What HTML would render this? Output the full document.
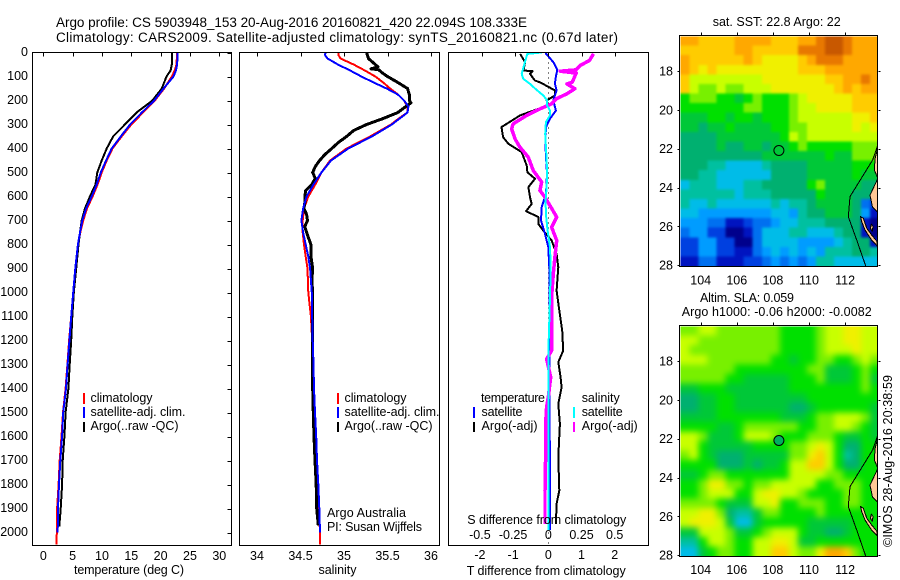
<!DOCTYPE html>
<html lang="en">
<head>
<meta charset="utf-8">
<title>Argo profile 5903948_153</title>
<style>
html,body{margin:0;padding:0;background:#fff;}
#figure{display:block;width:900px;height:580px;}
text{font-family:"Liberation Sans",sans-serif;font-size:12.5px;fill:#000;}
.crisp{shape-rendering:crispEdges;}
.title{font-size:13.5px;}
</style>
</head>
<body>
<svg id="figure" xmlns="http://www.w3.org/2000/svg" width="900" height="580" viewBox="0 0 900 580">
  <defs>
    <clipPath id="clip-temp"><rect x="32" y="52" width="200" height="494"/></clipPath>
    <clipPath id="clip-sal"><rect x="239" y="52" width="201" height="494"/></clipPath>
    <clipPath id="clip-diff"><rect x="448" y="52" width="201" height="494"/></clipPath>
    <clipPath id="clip-sst"><rect x="680.5" y="36.5" width="197" height="230"/></clipPath>
    <clipPath id="clip-sla"><rect x="680.5" y="326.5" width="197" height="230"/></clipPath>
    <filter id="soft-sst" filterUnits="userSpaceOnUse" x="640" y="0" width="260" height="300" color-interpolation-filters="sRGB"><feGaussianBlur stdDeviation="1.3"/></filter>
    <filter id="soft-sla" filterUnits="userSpaceOnUse" x="640" y="290" width="260" height="290" color-interpolation-filters="sRGB"><feGaussianBlur stdDeviation="3.2"/></filter>
  </defs>

  <text class="title" x="56" y="27" textLength="471">Argo profile: CS 5903948_153 20-Aug-2016 20160821_420 22.094S 108.333E</text>
  <text class="title" x="56" y="42" textLength="562">Climatology: CARS2009. Satellite-adjusted climatology: synTS_20160821.nc (0.67d later)</text>

  <g clip-path="url(#clip-sst)"><g id="heat-sst" filter="url(#soft-sst)" class="crisp"></g></g>
  <g clip-path="url(#clip-sla)"><g id="heat-sla" filter="url(#soft-sla)" class="crisp"></g></g>
  <g id="geo-sst" clip-path="url(#clip-sst)"></g>
  <g id="geo-sla" clip-path="url(#clip-sla)"></g>

  <g id="series-temp" clip-path="url(#clip-temp)" class="crisp"></g>
  <g id="series-sal" clip-path="url(#clip-sal)" class="crisp"></g>
  <g id="series-diff" clip-path="url(#clip-diff)" class="crisp"></g>

  <g id="ticks" class="crisp"></g>
  <g id="tick-labels"></g>

  <g class="crisp" fill="none" stroke="#000" stroke-width="1">
    <rect x="32.5" y="52.5" width="199" height="493"/>
    <rect x="239.5" y="52.5" width="200" height="493"/>
    <rect x="448.5" y="52.5" width="200" height="493"/>
    <rect x="679.5" y="35.5" width="198" height="231"/>
    <rect x="679.5" y="325.5" width="198" height="231"/>
  </g>

  <text x="74" y="574" textLength="110">temperature (deg C)</text>
  <text x="318.5" y="574" textLength="38">salinity</text>
  <text x="466.7" y="575" textLength="159">T difference from climatology</text>
  <text x="467.3" y="524" textLength="159">S difference from climatology</text>

  <g class="crisp">
    <rect x="83" y="393" width="2" height="11" fill="#f00"/>
    <rect x="83" y="407" width="2" height="11" fill="#00f"/>
    <rect x="83" y="422" width="2" height="10" fill="#000"/>
  </g>
  <text x="90.5" y="402" textLength="62">climatology</text>
  <text x="90.5" y="416" textLength="95">satellite-adj. clim.</text>
  <text x="90.5" y="430" textLength="88">Argo(..raw -QC)</text>

  <g class="crisp">
    <rect x="337" y="393" width="2" height="11" fill="#f00"/>
    <rect x="337" y="407" width="2" height="11" fill="#00f"/>
    <rect x="337" y="422" width="2" height="10" fill="#000"/>
  </g>
  <text x="344.5" y="402" textLength="62">climatology</text>
  <text x="344.5" y="416" textLength="95">satellite-adj. clim.</text>
  <text x="344.5" y="430" textLength="88">Argo(..raw -QC)</text>

  <text x="327" y="517" textLength="79">Argo Australia</text>
  <text x="327" y="531" textLength="95">PI: Susan Wijffels</text>

  <text x="481" y="402" textLength="64">temperature</text>
  <text x="481.5" y="416" textLength="41">satellite</text>
  <text x="481.5" y="430" textLength="56">Argo(-adj)</text>
  <text x="581.7" y="402" textLength="38">salinity</text>
  <text x="581.7" y="416" textLength="41">satellite</text>
  <text x="581.7" y="430" textLength="56">Argo(-adj)</text>
  <g class="crisp">
    <rect x="473" y="407" width="2" height="11" fill="#00f"/>
    <rect x="473" y="422" width="2" height="10" fill="#000"/>
    <rect x="573" y="407" width="2" height="11" fill="#0ff"/>
    <rect x="573" y="422" width="2" height="10" fill="#f0f"/>
  </g>

  <text x="712.7" y="26" textLength="128">sat. SST: 22.8 Argo: 22</text>
  <text x="700" y="302" textLength="94">Altim. SLA: 0.059</text>
  <text x="681.7" y="316" textLength="190">Argo h1000: -0.06 h2000: -0.0082</text>
  <text transform="translate(892,547) rotate(-90)" x="0" y="0" textLength="172">©IMOS 28-Aug-2016 20:38:59</text>
</svg>

<script>
// ---------- temperature panel data ----------
const tempDepth = [0,50,75,100,150,200,250,300,350,400,450,500,550,600,650,700,750,800,900,1000,1100,1200,1300,1400,1500,1600,1700,1800,1900,2000,2050];
const tempClim = [22.8,22.7,22.4,21.9,20.6,19.0,17.0,15.0,13.35,11.8,10.8,9.95,9.25,8.4,7.45,6.8,6.3,5.95,5.5,5.1,4.75,4.4,4.1,3.8,3.35,3.1,2.8,2.6,2.35,2.3,2.25];
const tempSat = [22.9,22.8,22.6,22.2,20.5,18.9,16.8,14.8,13.2,11.65,10.7,9.8,9.1,8.25,7.3,6.65,6.25,5.9,5.45,5.1,4.75,4.45,4.15,3.87,3.4,3.2,2.9,2.68,2.5,2.45];
const tempArgoDepth = [0,50,75,100,150,200,250,300,350,400,450,500,550,600,650,700,750,800,900,1000,1100,1200,1300,1400,1500,1600,1700,1800,1900,1975];
const tempArgo = [21.9,21.9,21.7,21.0,20.2,18.6,15.9,13.9,11.9,10.8,9.95,9.2,8.9,7.95,7.1,6.55,6.25,6.0,5.6,5.2,4.95,4.75,4.5,4.27,3.8,3.6,3.3,3.2,2.97,2.73];

// ---------- salinity panel data ----------
const salDepth = [0,10,25,50,75,100,125,150,175,200,225,250,275,300,350,400,450,500,550,600,650,700,750,800,850,900,1000,1100,1200,1300,1400,1500,1600,1700,1800,1900,2000,2050];
const salClim = [34.935,34.935,34.96,35.11,35.24,35.36,35.45,35.53,35.62,35.69,35.73,35.73,35.63,35.54,35.30,35.03,34.84,34.74,34.67,34.59,34.54,34.525,34.525,34.54,34.56,34.58,34.59,34.62,34.635,34.645,34.65,34.66,34.675,34.69,34.70,34.712,34.724,34.724];
const salSat = [34.79,34.78,34.81,34.93,35.07,35.2,35.34,35.49,35.62,35.69,35.74,35.73,35.64,35.55,35.32,35.05,34.85,34.74,34.65,34.57,34.53,34.51,34.53,34.56,34.59,34.61,34.63,34.635,34.64,34.65,34.655,34.667,34.68,34.69,34.705,34.716,34.724];
const salArgoDepth = [0,25,50,60,68,72,85,100,125,150,175,200,210,225,250,275,300,325,350,375,400,425,450,475,500,525,550,575,600,625,650,675,700,725,750,800,850,900,950,1000,1100,1200,1300,1400,1500,1600,1700,1800,1900,1970];
const salArgo = [35.26,35.28,35.36,35.39,35.31,35.40,35.44,35.5,35.62,35.73,35.75,35.75,35.77,35.71,35.62,35.45,35.26,35.11,35.03,34.935,34.86,34.78,34.72,34.67,34.64,34.67,34.63,34.56,34.55,34.55,34.54,34.57,34.58,34.55,34.57,34.62,34.62,34.64,34.63,34.64,34.64,34.64,34.64,34.64,34.647,34.655,34.667,34.68,34.686,34.705];

// ---------- difference panel data ----------
const tDiffSatDepth = [0,5,40,72,100,130,158,200,242,276,311,367,436,505,589,644,700,756,811,894,1019,1200,1500,1800,1990];
const tDiffSat = [-0.07,-0.07,0.15,0.27,0.23,0.2,0.25,0.15,0.23,0.05,-0.07,-0.09,-0.07,-0.04,-0.07,-0.2,-0.22,-0.1,0,0.03,0.03,0.03,0.04,0.05,0.05];
const sDiffSatDepth = [0,6,40,89,110,131,156,179,200,221,242,262,290,339,422,506,561,617,672,742,811,894,1019,1200,1500,1800,1990];
const sDiffSat = [-0.05,-0.158,-0.176,-0.2,-0.188,-0.138,-0.088,-0.038,-0.008,-0.008,0.013,0.013,-0.018,-0.023,-0.015,-0.008,-0.013,-0.02,-0.018,-0.005,0.013,0.018,0.013,0.003,0.003,0.003,0];
const tDiffArgoDepth = [6,40,75,78,89,117,124,158,179,200,221,242,262,311,353,381,415,471,499,526,561,603,631,661,686,714,742,783,839,894,992,1075,1158,1242,1290,1353,1395,1464,1547,1686,1825,1881,1964];
const tDiffArgo = [-0.85,-0.70,-0.75,-0.47,-0.55,-0.40,-0.25,0.20,0.20,-0.05,0,-0.45,-0.85,-1.41,-1.36,-1.20,-0.80,-0.65,-0.63,-0.40,-0.60,-0.55,-0.50,-0.67,-0.30,-0.30,-0.15,0.10,0.25,0.30,0.25,0.33,0.42,0.45,0.30,0.37,0.40,0.30,0.35,0.30,0.33,0.25,0.23];
const sDiffArgoDepth = [6,33,54,72,78,86,124,131,151,172,193,214,235,262,297,318,360,394,436,492,540,575,603,638,686,728,783,853,922,1019,1061,1242,1277,1353,1436,1478,1547,1686,1825,1964];
const sDiffArgo = [0.34,0.31,0.24,0.21,0.09,0.21,0.18,0.14,0.20,0.14,0.06,0.025,-0.063,-0.163,-0.264,-0.276,-0.251,-0.214,-0.151,-0.113,-0.05,-0.063,-0.025,0.013,0.063,0.025,0.063,0.05,0.038,0.025,0.025,0.025,-0.013,0.018,0,-0.013,-0.02,-0.02,-0.025,-0.025];

// ---------- tick labels ----------
const depthTicks = [0,100,200,300,400,500,600,700,800,900,1000,1100,1200,1300,1400,1500,1600,1700,1800,1900,2000];
const tempTicks = [0,5,10,15,20,25,30];
const salTicks = [34,34.5,35,35.5,36];
const tDiffTicks = [-2,-1,0,1,2];
const sDiffTicks = [-0.5,-0.25,0,0.25,0.5];
const lonTicks = [104,106,108,110,112];
const latTicks = [18,20,22,24,26,28];

// ---------- profile position ----------
const profileLon = [108.333];
const profileLat = [22.094];

// ---------- map data: colour levels, one row per 0.5 degree of latitude ----------
const sstLevels = [
[14,14,13,13,13,13,14,14,14,14,13,13,13,14,14,15,16,16,15,14,14,14],
[13,13,13,13,13,13,14,14,13,13,13,13,13,15,15,15,16,16,15,14,14,14],
[14,13,13,13,13,13,13,14,13,12,12,12,12,13,14,15,15,15,14,14,14,14],
[14,13,12,13,12,12,12,12,12,12,12,12,12,13,13,13,14,14,14,14,14,14],
[13,11,11,11,11,11,11,11,11,12,12,12,12,12,12,12,13,13,14,14,15,14],
[13,11,10,10,11,10,10,11,11,11,12,12,12,12,12,12,12,13,14,13,14,14],
[9,10,10,10,9,9,8,9,10,9,9,9,10,11,12,12,12,12,12,13,13,13],
[9,9,9,9,9,9,9,10,10,9,9,9,10,11,11,12,12,12,12,13,13,13],
[8,8,8,9,9,8,9,9,8,9,9,9,10,11,11,11,11,11,11,12,12,13],
[8,8,7,8,8,9,8,8,8,8,9,9,10,10,11,11,11,11,11,12,11,12],
[7,7,7,7,8,8,8,8,8,8,8,9,11,10,11,11,11,11,11,11,11,11],
[7,7,7,7,8,7,7,8,8,7,8,8,9,10,9,9,9,9,9,10,10,10],
[7,7,7,7,7,7,7,7,7,8,8,8,8,8,8,8,9,8,8,10,10,10],
[7,7,7,6,6,5,5,5,5,6,7,7,7,7,8,8,8,8,8,9,9,9],
[7,7,6,6,5,5,5,5,5,5,7,7,7,7,8,8,8,8,8,9,8,8],
[5,6,6,6,5,5,5,6,6,7,7,7,7,7,9,10,8,8,8,8,7,7],
[6,6,6,6,6,6,5,6,6,6,7,7,7,7,7,9,8,8,8,7,7,7],
[6,5,5,6,5,5,5,5,5,5,6,5,6,6,7,8,8,8,8,7,3,2],
[5,5,4,4,4,4,4,4,4,4,5,5,4,6,7,7,8,8,8,7,4,1],
[4,4,4,3,3,1,1,2,3,3,4,5,5,6,6,6,7,7,7,7,1,0],
[3,4,4,2,2,0,0,1,3,5,5,5,6,6,5,5,5,6,7,7,1,0],
[2,2,4,4,2,2,0,0,3,5,5,5,5,4,4,4,4,5,6,7,7,1],
[2,2,4,4,2,2,1,1,3,4,5,4,5,4,5,4,6,6,6,7,7,6],
[1,1,3,3,1,1,1,2,2,3,4,3,4,3,4,6,6,5,5,5,5,5]
];
const slaLevels = [
[10,10,11,11,10,10,10,10,10,10,10,9,9,9,9,10,11,11,12,12,11,11],
[11,11,10,10,10,10,10,10,10,10,10,9,9,9,9,10,11,11,12,12,11,11],
[11,10,10,10,10,10,10,10,10,10,10,9,9,9,9,10,11,11,11,12,11,11],
[11,11,11,10,10,10,10,10,10,10,9,9,8,9,9,10,10,9,9,10,11,10],
[10,10,10,10,10,10,9,9,9,9,9,9,9,9,10,10,8,8,8,9,10,9],
[10,10,10,10,10,9,9,8,8,8,8,8,9,9,9,10,8,8,8,9,10,8],
[8,8,9,9,9,8,8,8,8,8,8,8,9,9,9,9,9,9,9,9,10,9],
[7,7,8,8,9,9,8,8,8,8,8,8,8,8,9,9,9,9,9,9,9,9],
[7,7,8,8,9,9,8,8,8,8,8,8,7,7,8,9,9,9,9,9,9,8],
[8,8,8,8,9,9,9,9,9,9,9,8,8,8,9,10,10,11,11,11,10,8],
[9,9,9,9,8,8,9,10,10,10,10,10,10,9,9,10,10,11,11,10,9,8],
[11,11,10,8,8,8,9,11,11,11,10,9,9,9,10,10,10,9,8,8,9,8],
[11,11,9,8,8,8,8,8,9,9,9,9,10,10,11,12,11,9,7,7,9,9],
[10,11,9,8,7,7,7,8,8,8,8,8,10,10,12,13,11,9,6,7,9,9],
[9,9,9,9,7,7,7,8,7,8,8,9,11,11,13,13,11,9,7,7,9,9],
[8,8,9,10,10,9,9,9,9,9,9,9,11,11,11,11,10,10,9,9,9,9],
[9,9,10,12,12,10,10,9,10,10,11,11,11,11,11,9,9,10,10,10,9,9],
[9,9,10,11,11,11,9,9,11,12,12,11,11,10,9,9,9,9,10,10,9,9],
[10,10,10,10,9,8,8,8,11,11,12,9,9,10,10,10,9,9,10,10,9,9],
[11,11,12,12,10,7,6,6,8,10,10,9,9,9,9,10,9,9,9,9,9,9],
[11,12,12,12,11,8,5,5,8,9,9,9,9,9,8,8,8,8,8,9,9,9],
[8,8,11,11,11,10,8,8,9,10,11,11,11,9,8,8,7,7,8,9,9,9],
[6,6,9,11,11,10,9,9,11,11,12,12,11,8,8,9,9,9,9,9,9,9],
[5,5,8,9,10,10,9,9,11,11,13,13,11,10,10,12,14,14,13,10,9,9]
];

// ---------- geography (longitude E, latitude S) ----------
const coastOuterLon = [113.78,113.53,112.73,112.27,112.18,112.64,113.16];
const coastOuterLat = [21.9,22.58,23.78,24.47,25.5,26.7,28.08];
const landALon = [113.9,113.78,113.66,113.62,113.78,113.9];
const landALat = [22.07,22.07,22.5,23.1,23.44,23.44];
const landBLon = [113.9,113.78,113.38,113.51,113.78,113.9];
const landBLat = [23.61,23.61,24.39,24.99,25.24,25.24];
const landCLon = [112.86,113.01,113.2,113.47,113.78,113.78,113.47,113.1,112.92];
const landCLat = [25.5,25.58,26.1,26.44,26.79,27.01,26.7,26.19,25.76];
const landDLon = [113.45,113.55,113.5,113.4];
const landDLat = [25.9,26.0,26.25,26.1];

// colour ramp used for map levels (dark blue through to dark orange)
const heatPalette = ['#00008c','#0014c0','#0040e0','#0070f0','#009cff','#00bce8','#00c0a0','#00b070','#00c838','#00e000','#78f000','#c8ff00','#f0f000','#ffcc00','#ffa800','#e87800','#c85800'];

// ---------- axis functions ----------
const SVGNS = 'http://www.w3.org/2000/svg';
const yDepth = d => 52.5 + d * 0.24;
const xTemp = v => 43.3 + v * 5.867;
const xSal = v => 257 + (v - 34) * 87;
const xTDiff = v => 548.3 + v * 33.2;
const xSDiff = v => 548.3 + v * 132.8;
const xLon = v => 700.7 + (v - 104) * 18.05;
const ySst = v => 71 + (v - 18) * 19.42;
const ySla = v => ySst(v) + 290;

function mk(tag, parent) {
  const el = document.createElementNS(SVGNS, tag);
  parent.appendChild(el);
  return el;
}

function drawProfile(parent, xFn, depths, values, color, width, name) {
  const el = mk('polyline', parent);
  
  
  const pts = values.map((v, i) => xFn(v).toFixed(1) + ',' + yDepth(depths[i]).toFixed(1));
  el.setAttribute('points', pts.join(' '));
  el.setAttribute('fill', 'none');
  el.setAttribute('stroke', color);
  el.setAttribute('stroke-width', width);
  el.setAttribute('stroke-linejoin', 'round');
}

const gTemp = document.getElementById('series-temp');
drawProfile(gTemp, xTemp, tempDepth, tempClim, '#f00', 2, 'temperature-climatology-line');
drawProfile(gTemp, xTemp, tempArgoDepth, tempArgo, '#000', 2, 'temperature-argo-line');
drawProfile(gTemp, xTemp, tempDepth, tempSat, '#00f', 2, 'temperature-satellite-line');

const gSal = document.getElementById('series-sal');
drawProfile(gSal, xSal, salDepth, salClim, '#f00', 2, 'salinity-climatology-line');
drawProfile(gSal, xSal, salArgoDepth, salArgo, '#000', 3, 'salinity-argo-line');
drawProfile(gSal, xSal, salDepth, salSat, '#00f', 2, 'salinity-satellite-line');

const gDiff = document.getElementById('series-diff');
const zeroLine = mk('line', gDiff);


zeroLine.setAttribute('x1', xTDiff(0));
zeroLine.setAttribute('x2', xTDiff(0));
zeroLine.setAttribute('y1', yDepth(0));
zeroLine.setAttribute('y2', yDepth(2054));
zeroLine.setAttribute('stroke', '#000');
zeroLine.setAttribute('stroke-dasharray', '1 4');
drawProfile(gDiff, xTDiff, tDiffArgoDepth, tDiffArgo, '#000', 2, 't-difference-argo-line');
drawProfile(gDiff, xTDiff, tDiffSatDepth, tDiffSat, '#00f', 2, 't-difference-satellite-line');
drawProfile(gDiff, xSDiff, sDiffArgoDepth, sDiffArgo, '#f0f', 3.5, 's-difference-argo-line');
drawProfile(gDiff, xSDiff, sDiffSatDepth, sDiffSat, '#0ff', 2, 's-difference-satellite-line');

// ---------- heatmaps ----------
function drawHeat(parent, levels, yFn, name) {
  const lastRow = levels.length - 1;
  levels.forEach((row, j) => {
    const lastCol = row.length - 1;
    row.forEach((v, i) => {
      // outermost cells run past the clip so the softening has no pale edge
      const padL = i === 0 ? 16 : 0;
      const padR = i === lastCol ? 16 : 0;
      const padT = j === 0 ? 16 : 0;
      const padB = j === lastRow ? 16 : 0;
      const x0 = 680.5 + i * 9.03 - padL;
      const y0 = yFn(16.2 + j * 0.4935) - padT;
      const el = mk('rect', parent);
      
      
      el.setAttribute('x', x0.toFixed(2));
      el.setAttribute('y', y0.toFixed(2));
      el.setAttribute('width', (9.3 + padL + padR).toFixed(2));
      el.setAttribute('height', (9.9 + padT + padB).toFixed(2));
      const idx = Math.max(0, Math.min(heatPalette.length - 1, Math.round(v)));
      el.setAttribute('fill', heatPalette[idx]);
    });
  });
}
drawHeat(document.getElementById('heat-sst'), sstLevels, ySst, 'sst-cell');
drawHeat(document.getElementById('heat-sla'), slaLevels, ySla, 'sla-cell');

function drawLand(parent, lons, lats, yFn, name) {
  const el = mk('polygon', parent);
  
  
  el.setAttribute('points', lons.map((v, i) => xLon(v).toFixed(1) + ',' + yFn(lats[i]).toFixed(1)).join(' '));
  el.setAttribute('fill', '#ffc896');
  el.setAttribute('stroke', '#000');
  el.setAttribute('stroke-width', '1');
  el.setAttribute('shape-rendering', 'crispEdges');
}
function drawGeo(parent, yFn) {
  drawLand(parent, landALon, landALat, yFn, 'land-north');
  drawLand(parent, landBLon, landBLat, yFn, 'land-cape');
  drawLand(parent, landCLon, landCLat, yFn, 'land-peninsula');
  drawLand(parent, landDLon, landDLat, yFn, 'land-island');
  const c = mk('polyline', parent);
  
  
  c.setAttribute('points', coastOuterLon.map((v, i) => xLon(v).toFixed(1) + ',' + yFn(coastOuterLat[i]).toFixed(1)).join(' '));
  c.setAttribute('fill', 'none');
  c.setAttribute('stroke', '#000');
  c.setAttribute('stroke-width', '1');
  c.setAttribute('shape-rendering', 'crispEdges');
}
const geoSst = document.getElementById('geo-sst');
const geoSla = document.getElementById('geo-sla');
drawGeo(geoSst, ySst);
drawGeo(geoSla, ySla);

function drawMarker(parent, yFn, fill, name) {
  const el = mk('circle', parent);
  
  
  el.setAttribute('cx', xLon(profileLon[0]).toFixed(1));
  el.setAttribute('cy', yFn(profileLat[0]).toFixed(1));
  el.setAttribute('r', '5');
  el.setAttribute('fill', fill);
  el.setAttribute('stroke', '#000');
  el.setAttribute('stroke-width', '1');
}
drawMarker(geoSst, ySst, 'none', 'sst-profile-marker');
drawMarker(geoSla, ySla, '#00b060', 'sla-profile-marker');

// ---------- ticks and labels ----------
const gTicks = document.getElementById('ticks');
const gLabels = document.getElementById('tick-labels');

function tick(x1, y1, x2, y2, name) {
  const el = mk('line', gTicks);
  
  
  el.setAttribute('x1', Math.round(x1) + 0.5);
  el.setAttribute('x2', Math.round(x2) + 0.5);
  el.setAttribute('y1', Math.round(y1) + 0.5);
  el.setAttribute('y2', Math.round(y2) + 0.5);
  el.setAttribute('stroke', '#000');
}
function label(x, y, str, anchor, name) {
  const el = mk('text', gLabels);
  
  
  el.setAttribute('x', x.toFixed(1));
  el.setAttribute('y', y.toFixed(1));
  el.setAttribute('text-anchor', anchor);
  el.textContent = str;
}

depthTicks.forEach(d => {
  tick(227, yDepth(d), 231, yDepth(d), 'depth-tick');
  label(28, yDepth(d) + 3.5, String(d), 'end', 'depth-tick-label');
});
tempTicks.forEach(v => {
  tick(xTemp(v), 52, xTemp(v), 56, 'temperature-tick');
  label(xTemp(v), 560, String(v), 'middle', 'temperature-tick-label');
});
salTicks.forEach(v => {
  tick(xSal(v), 52, xSal(v), 56, 'salinity-tick');
  label(xSal(v), 560, String(v), 'middle', 'salinity-tick-label');
});
tDiffTicks.forEach(v => {
  tick(xTDiff(v), 52, xTDiff(v), 56, 't-difference-tick');
  label(xTDiff(v) - (v < 0 ? 2 : 0), 559, String(v), 'middle', 't-difference-tick-label');
});
sDiffTicks.forEach(v => {
  label(xSDiff(v) - (v < 0 ? 2 : 0), 539, String(v), 'middle', 's-difference-tick-label');
});
[[ySst, 35, 284.5, 'sst'], [ySla, 325, 574, 'sla']].forEach(cfg => {
  const yFn = cfg[0];
  const top = cfg[1];
  const labelY = cfg[2];
  const key = cfg[3];
  lonTicks.forEach(v => {
    tick(xLon(v), top - 3, xLon(v), top, key + '-longitude-tick');
    label(xLon(v), labelY, String(v), 'middle', key + '-longitude-label');
  });
  latTicks.forEach(v => {
    tick(677, yFn(v), 679, yFn(v), key + '-latitude-tick-left');
    tick(878, yFn(v), 880, yFn(v), key + '-latitude-tick-right');
    label(673, yFn(v) + 4.5, String(v), 'end', key + '-latitude-label');
  });
});
</script>
</body>
</html>
